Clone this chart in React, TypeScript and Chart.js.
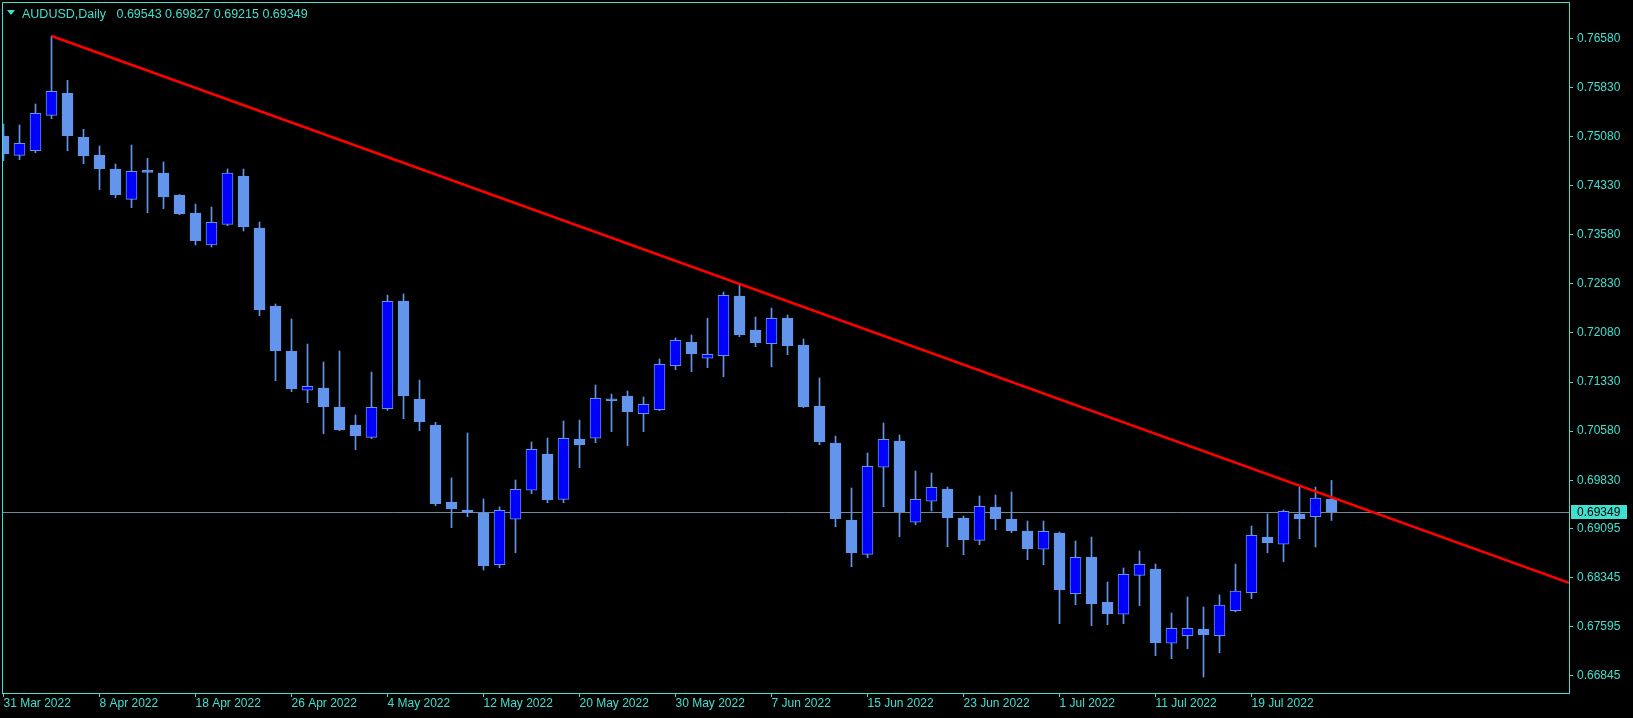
import React, { useEffect, useRef } from 'react';
import { Chart, registerables } from 'chart.js';

Chart.register(...registerables);

// ---------- data ----------
const symbolTitle = 'AUDUSD,Daily';

const dateLabels = [
  '31 Mar 2022', '8 Apr 2022', '18 Apr 2022', '26 Apr 2022', '4 May 2022', '12 May 2022', '20 May 2022',
  '30 May 2022', '7 Jun 2022', '15 Jun 2022', '23 Jun 2022', '1 Jul 2022', '11 Jul 2022', '19 Jul 2022',
];
const dateLabelBars = [0, 6, 12, 18, 24, 30, 36, 42, 48, 54, 60, 66, 72, 78];

const openPrices = [
  0.75088, 0.74793, 0.74863, 0.75404, 0.75740, 0.75068, 0.74793, 0.74584, 0.74121, 0.74533,
  0.74523, 0.74187, 0.73912, 0.73423, 0.73736, 0.74477, 0.73683, 0.72491, 0.71804, 0.71204,
  0.71239, 0.70949, 0.70674, 0.70486, 0.70923, 0.72568, 0.71071, 0.70674, 0.69498, 0.69376,
  0.69330, 0.68540, 0.69234, 0.69677, 0.70231, 0.69539, 0.70456, 0.70471, 0.71071, 0.71117,
  0.70847, 0.70908, 0.71580, 0.71937, 0.71693, 0.71732, 0.72644, 0.72125, 0.71916, 0.72304,
  0.71896, 0.70964, 0.70399, 0.69223, 0.68699, 0.70028, 0.70430, 0.69188, 0.69509, 0.69697,
  0.69254, 0.68913, 0.69422, 0.69238, 0.69055, 0.68776, 0.69024, 0.68097, 0.68658, 0.67966,
  0.67783, 0.68378, 0.68475, 0.67340, 0.67456, 0.67558, 0.67456, 0.67838, 0.68113, 0.68963,
  0.68852, 0.69315, 0.69275, 0.69543,
];
const highPrices = [
  0.75271, 0.75256, 0.75577, 0.76615, 0.75939, 0.75190, 0.74935, 0.74660, 0.74950, 0.74747,
  0.74691, 0.74195, 0.74049, 0.74003, 0.74584, 0.74584, 0.73774, 0.72522, 0.72293, 0.71911,
  0.71636, 0.71804, 0.70827, 0.71483, 0.72659, 0.72675, 0.71361, 0.70715, 0.69865, 0.70552,
  0.69544, 0.69422, 0.69834, 0.70414, 0.70475, 0.70735, 0.70750, 0.71285, 0.71147, 0.71193,
  0.71102, 0.71682, 0.72003, 0.72049, 0.72304, 0.72705, 0.72808, 0.72323, 0.72461, 0.72354,
  0.71987, 0.71392, 0.70506, 0.69712, 0.70246, 0.70705, 0.70521, 0.69971, 0.69941, 0.69727,
  0.69284, 0.69590, 0.69605, 0.69651, 0.69208, 0.69208, 0.69040, 0.68902, 0.68963, 0.68276,
  0.68490, 0.68750, 0.68551, 0.67803, 0.68047, 0.67894, 0.68078, 0.68551, 0.69131, 0.69315,
  0.69376, 0.69732, 0.69727, 0.69827,
];
const lowPrices = [
  0.74711, 0.74726, 0.74833, 0.75352, 0.74863, 0.74665, 0.74268, 0.74146, 0.73993, 0.73916,
  0.73978, 0.73886, 0.73423, 0.73393, 0.73718, 0.73637, 0.72343, 0.71351, 0.71183, 0.71015,
  0.70541, 0.70587, 0.70297, 0.70465, 0.70898, 0.70770, 0.70587, 0.69441, 0.69105, 0.69273,
  0.68459, 0.68495, 0.68724, 0.69625, 0.69487, 0.69487, 0.70022, 0.70404, 0.70572, 0.70358,
  0.70572, 0.70892, 0.71519, 0.71488, 0.71549, 0.71412, 0.72023, 0.71870, 0.71564, 0.71748,
  0.70938, 0.70373, 0.69121, 0.68510, 0.68647, 0.69426, 0.68968, 0.69151, 0.69360, 0.68815,
  0.68693, 0.68846, 0.69075, 0.69029, 0.68617, 0.68540, 0.67639, 0.67929, 0.67609, 0.67624,
  0.67639, 0.67914, 0.67150, 0.67105, 0.67257, 0.66825, 0.67196, 0.67820, 0.68021, 0.68724,
  0.68586, 0.68937, 0.68811, 0.69215,
];
const closePrices = [
  0.74818, 0.74976, 0.75435, 0.75771, 0.75092, 0.74787, 0.74588, 0.74191, 0.74549, 0.74533,
  0.74156, 0.73901, 0.73489, 0.73770, 0.74520, 0.73703, 0.72435, 0.71809, 0.71228, 0.71265,
  0.70953, 0.70602, 0.70511, 0.70944, 0.72563, 0.71121, 0.70724, 0.69472, 0.69396, 0.69334,
  0.68525, 0.69371, 0.69692, 0.70303, 0.69533, 0.70471, 0.70373, 0.71082, 0.71045, 0.70877,
  0.70990, 0.71601, 0.71968, 0.71763, 0.71754, 0.72655, 0.72053, 0.71931, 0.72304, 0.71885,
  0.70953, 0.70419, 0.69243, 0.68724, 0.70043, 0.70456, 0.69350, 0.69539, 0.69722, 0.69258,
  0.68922, 0.69432, 0.69243, 0.69060, 0.68785, 0.69050, 0.68159, 0.68653, 0.67945, 0.67792,
  0.68394, 0.68546, 0.67349, 0.67569, 0.67569, 0.67471, 0.67925, 0.68139, 0.68989, 0.68876,
  0.69356, 0.69243, 0.69559, 0.69349,
];

const priceTicks = [
  0.76580, 0.75830, 0.75080, 0.74330, 0.73580, 0.72830, 0.72080,
  0.71330, 0.70580, 0.69830, 0.69095, 0.68345, 0.67595, 0.66845,
];

// trend line anchors (bar index, price)
const trendBars = [3, 46];
const trendPrices = [0.76615, 0.72828];

// ---------- styles ----------
const TEAL = '#40E0D0';
const BULL = '#0000FF';
const BEAR = '#6495ED';
const BID_LINE = '#778899';
const FONT = '"Liberation Sans", Arial, sans-serif';

export default function App() {
  const ref = useRef<HTMLCanvasElement | null>(null);

  useEffect(() => {
    document.body.style.margin = '0';
    document.body.style.background = '#000';
    const canvas = ref.current;
    if (!canvas) return;

    const xMin = -0.09375;
    const xMax = 97.84375;
    const yMin = 0.665808;
    const yMax = 0.771344;

    const n = closePrices.length;
    const lastClose = closePrices[n - 1];
    const slope = (trendPrices[1] - trendPrices[0]) / (trendBars[1] - trendBars[0]);
    const trendData = [
      { x: trendBars[0], y: trendPrices[0] },
      { x: xMax, y: trendPrices[0] + slope * (xMax - trendBars[0]) },
    ];
    const bodies = openPrices.map((o, i) => ({ x: i, y: [o, closePrices[i]] }));
    const wicks = lowPrices.map((l, i) => ({ x: i, y: [l, highPrices[i]] }));
    const bodyColors = closePrices.map((c, i) => (c > openPrices[i] ? BULL : BEAR));

    const overlay = {
      id: 'mt4Overlay',
      beforeDraw(chart: any) {
        const { ctx, width, height } = chart;
        ctx.save();
        ctx.fillStyle = '#000';
        ctx.fillRect(0, 0, width, height);
        ctx.restore();
      },
      beforeDatasetsDraw(chart: any) {
        const { ctx, chartArea, scales } = chart;
        const y = Math.round(scales.y.getPixelForValue(lastClose)) + 0.5;
        ctx.save();
        ctx.strokeStyle = BID_LINE;
        ctx.lineWidth = 1;
        ctx.beginPath();
        ctx.moveTo(chartArea.left, y);
        ctx.lineTo(chartArea.right, y);
        ctx.stroke();
        ctx.restore();
      },
      afterDraw(chart: any) {
        const { ctx, chartArea, scales } = chart;
        ctx.save();
        // frame (top and left; right and bottom come from the axes)
        ctx.strokeStyle = TEAL;
        ctx.lineWidth = 1;
        ctx.beginPath();
        ctx.moveTo(chartArea.left + 0.5, chartArea.bottom);
        ctx.lineTo(chartArea.left + 0.5, chartArea.top + 0.5);
        ctx.lineTo(chartArea.right, chartArea.top + 0.5);
        ctx.stroke();

        // title
        ctx.fillStyle = TEAL;
        ctx.beginPath();
        ctx.moveTo(chartArea.left + 5, chartArea.top + 8);
        ctx.lineTo(chartArea.left + 13, chartArea.top + 8);
        ctx.lineTo(chartArea.left + 9, chartArea.top + 13);
        ctx.closePath();
        ctx.fill();
        ctx.font = `12.5px ${FONT}`;
        ctx.textBaseline = 'alphabetic';
        ctx.textAlign = 'left';
        const ohlc = [openPrices[n - 1], highPrices[n - 1], lowPrices[n - 1], closePrices[n - 1]]
          .map((v) => v.toFixed(5))
          .join(' ');
        ctx.fillText(`${symbolTitle}   ${ohlc}`, chartArea.left + 20, chartArea.top + 15.5);

        // current price box on the axis
        const py = scales.y.getPixelForValue(lastClose);
        const bx = chartArea.right + 2;
        ctx.font = `12px ${FONT}`;
        ctx.fillStyle = TEAL;
        ctx.fillRect(bx, Math.round(py) - 7, 56, 14);
        ctx.fillStyle = '#000';
        ctx.textBaseline = 'middle';
        ctx.fillText(lastClose.toFixed(5), bx + 6, Math.round(py) + 0.5);
        ctx.restore();
      },
    };

    const chart = new Chart(canvas, {
      type: 'bar',
      data: {
        datasets: [
          {
            type: 'line',
            data: trendData,
            borderColor: '#FF0000',
            borderWidth: 2.5,
            pointRadius: 0,
            fill: false,
            order: 0,
          } as any,
          {
            type: 'bar',
            data: bodies as any,
            backgroundColor: bodyColors,
            borderColor: BEAR,
            borderWidth: 1,
            borderSkipped: false,
            barThickness: 11,
            grouped: false,
            minBarLength: 2,
            order: 1,
          } as any,
          {
            type: 'bar',
            data: wicks as any,
            backgroundColor: BEAR,
            borderWidth: 0,
            barThickness: 1,
            grouped: false,
            order: 2,
          } as any,
        ],
      },
      options: {
        responsive: false,
        maintainAspectRatio: false,
        devicePixelRatio: 1,
        animation: false,
        events: [],
        layout: { padding: { left: 2, top: 2, right: 0, bottom: 0 } },
        plugins: { legend: { display: false }, tooltip: { enabled: false } },
        scales: {
          x: {
            type: 'linear',
            position: 'bottom',
            min: xMin,
            max: xMax,
            offset: false,
            afterBuildTicks: (scale: any) => {
              scale.ticks = dateLabelBars.map((v) => ({ value: v }));
            },
            afterFit: (scale: any) => {
              scale.height = 25;
              scale.paddingLeft = 0;
              scale.paddingRight = 0;
            },
            ticks: {
              autoSkip: false,
              maxRotation: 0,
              minRotation: 0,
              align: 'start',
              padding: 1,
              color: TEAL,
              font: { family: FONT, size: 12, lineHeight: 1 },
              callback: (_v: any, i: number) => dateLabels[i],
            },
            grid: { drawOnChartArea: false, color: TEAL, tickLength: 4, offset: false },
            border: { color: TEAL, width: 1 },
          },
          y: {
            type: 'linear',
            position: 'right',
            min: yMin,
            max: yMax,
            afterBuildTicks: (scale: any) => {
              scale.ticks = priceTicks.map((v) => ({ value: v }));
            },
            afterFit: (scale: any) => {
              scale.width = 64;
              scale.paddingTop = 0;
              scale.paddingBottom = 0;
            },
            ticks: {
              autoSkip: false,
              padding: 4,
              color: TEAL,
              font: { family: FONT, size: 12 },
              callback: (v: any) => Number(v).toFixed(5),
            },
            grid: { drawOnChartArea: false, color: TEAL, tickLength: 4 },
            border: { color: TEAL, width: 1 },
          },
        },
      } as any,
      plugins: [overlay],
    });

    return () => chart.destroy();
  }, []);

  return (
    <div style={{ position: 'fixed', left: 0, top: 0, width: 1633, height: 718, background: '#000' }}>
      <canvas ref={ref} width={1633} height={718} style={{ display: 'block', width: 1633, height: 718 }} />
    </div>
  );
}
